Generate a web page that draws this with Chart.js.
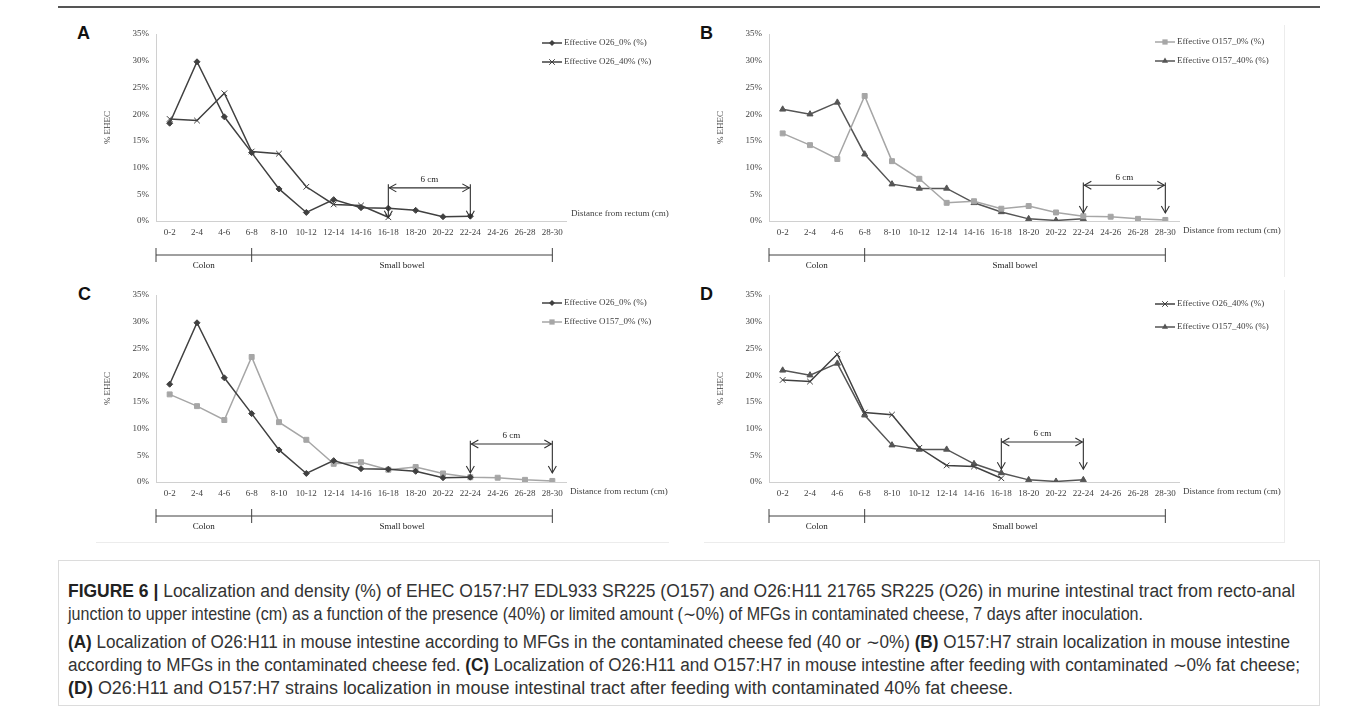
<!DOCTYPE html>
<html><head><meta charset="utf-8">
<script src="https://cdn.jsdelivr.net/npm/chart.js@4.4.1/dist/chart.umd.min.js"></script>
<style>
html,body{margin:0;padding:0;background:#fff;width:1358px;height:709px;overflow:hidden;position:relative;}
.letter{position:absolute;font:bold 18px "Liberation Sans",Arial,sans-serif;color:#111;line-height:18px;}
.rule{position:absolute;background:#555;}
.faint{position:absolute;background:#ececec;}
#caption{position:absolute;left:58px;top:560px;width:1262px;height:146px;border:1px solid #dcdcdc;box-sizing:border-box;}
.cl{position:absolute;left:9px;white-space:nowrap;font-family:"Liberation Sans",Arial,sans-serif;color:#333;line-height:18px;transform-origin:0 50%;}
.cl b{color:#222;}
</style></head>
<body>
<div class="rule" style="left:58px;top:6px;width:1262px;height:2px;"></div>
<div class="faint" style="left:1284px;top:25px;width:1px;height:252px;"></div>
<div class="faint" style="left:1284px;top:290px;width:1px;height:252px;"></div>
<div class="faint" style="left:704px;top:542px;width:581px;height:1px;"></div>
<div class="faint" style="left:96px;top:542px;width:573px;height:1px;"></div>
<div class="letter" style="left:77px;top:24px;">A</div>
<div class="letter" style="left:700px;top:24px;">B</div>
<div class="letter" style="left:78px;top:285px;">C</div>
<div class="letter" style="left:700px;top:285px;">D</div>
<div id="caption">
<div class="cl" id="l1" data-w="1227" style="top:21px"><b>FIGURE 6 |</b> Localization and density (%) of EHEC O157:H7 EDL933 SR225 (O157) and O26:H11 21765 SR225 (O26) in murine intestinal tract from recto-anal</div>
<div class="cl" data-w="1075" style="top:44px">junction to upper intestine (cm) as a function of the presence (40%) or limited amount (∼0%) of MFGs in contaminated cheese, 7 days after inoculation.</div>
<div class="cl" data-w="1222" style="top:72px"><b>(A)</b> Localization of O26:H11 in mouse intestine according to MFGs in the contaminated cheese fed (40 or ∼0%) <b>(B)</b> O157:H7 strain localization in mouse intestine</div>
<div class="cl" data-w="1232" style="top:95px">according to MFGs in the contaminated cheese fed. <b>(C)</b> Localization of O26:H11 and O157:H7 in mouse intestine after feeding with contaminated ∼0% fat cheese;</div>
<div class="cl" data-w="945" style="top:118px"><b>(D)</b> O26:H11 and O157:H7 strains localization in mouse intestinal tract after feeding with contaminated 40% fat cheese.</div>
</div>
<script>
// ---- data ----
const categories = ['0-2','2-4','4-6','6-8','8-10','10-12','12-14','14-16','16-18','18-20','20-22','22-24','24-26','26-28','28-30'];
const yTicks = [0,5,10,15,20,25,30,35];
const o26_0   = [18.3,29.8,19.5,12.8,6.0,1.6,4.0,2.5,2.4,2.0,0.8,0.9,null,null,null];
const o26_40  = [19.1,18.8,23.9,13.0,12.6,6.4,3.1,2.9,0.7,null,null,null,null,null,null];
const o157_0  = [16.4,14.2,11.6,23.4,11.2,7.9,3.4,3.7,2.3,2.8,1.6,0.9,0.8,0.4,0.2];
const o157_40 = [20.9,20.0,22.2,12.5,6.9,6.1,6.1,3.4,1.7,0.4,0.1,0.4,null,null,null];
const regionLabels = ['Colon','Small bowel'];
const regionBounds = [-0.5, 3, 14];           // category positions of bracket ticks
// 6 cm spans: [fromIndex, toIndex, arrowLevel%, topLevel%, bottomLevel%]
const spanA = [8, 11, 6.2, 6.9, 0.6];
const spanB = [11, 14, 6.7, 7.2, 1.5];
const spanC = [11, 14, 7.1, 7.7, 1.7];
const spanD = [8, 11, 7.5, 8.2, 2.4];
const spanLabel = '6 cm';
const xTitle = 'Distance from rectum (cm)';
const yTitle = '% EHEC';

const S = {
  o26_0:  {label:'Effective O26_0% (%)',  data:o26_0,  color:'#404040', marker:'rectRot',  radius:3},
  o26_40: {label:'Effective O26_40% (%)', data:o26_40, color:'#404040', marker:'crossRot', radius:4},
  o157_0: {label:'Effective O157_0% (%)', data:o157_0, color:'#a6a6a6', marker:'rect',     radius:3.5},
  o157_40:{label:'Effective O157_40% (%)',data:o157_40,color:'#555555', marker:'triangle', radius:3.5}
};

const W = 620, H = 280;
const panels = [
  {left:60,  top:15,  area:[96,19,506,206], series:[S.o26_0,S.o26_40],  legendY:[9,28],  span:spanA, distMode:'axis'},
  {left:690, top:15,  area:[79,19,489,206], series:[S.o157_0,S.o157_40],legendY:[8,27],  span:spanB, distMode:'ticks'},
  {left:60,  top:276, area:[96,19,506,206], series:[S.o26_0,S.o157_0], legendY:[8,27],  span:spanC, distMode:'ticks'},
  {left:690, top:276, area:[79,19,489,206], series:[S.o26_40,S.o157_40],legendY:[9,32], span:spanD, distMode:'ticks'}
];

const SERIF = '"Liberation Serif","Times New Roman",serif';
const TXT = '#404040';

function marker(ctx, style, r, x, y, color) {
  ctx.save();
  ctx.fillStyle = color; ctx.strokeStyle = color; ctx.lineWidth = 1;
  ctx.beginPath();
  if (style === 'rectRot') { ctx.moveTo(x, y-r); ctx.lineTo(x+r, y); ctx.lineTo(x, y+r); ctx.lineTo(x-r, y); ctx.closePath(); ctx.fill(); }
  else if (style === 'rect') { const a = r*0.75; ctx.rect(x-a, y-a, 2*a, 2*a); ctx.fill(); }
  else if (style === 'triangle') { ctx.moveTo(x, y-r); ctx.lineTo(x+r*0.87, y+r*0.5); ctx.lineTo(x-r*0.87, y+r*0.5); ctx.closePath(); ctx.fill(); }
  else if (style === 'crossRot') { const a = r*0.7; ctx.moveTo(x-a,y-a); ctx.lineTo(x+a,y+a); ctx.moveTo(x+a,y-a); ctx.lineTo(x-a,y+a); ctx.stroke(); }
  ctx.restore();
}

function openHead(ctx, x, y, dx, dy) {
  const L = 7, Wd = 4;
  const px = -dy, py = dx;
  ctx.beginPath();
  ctx.moveTo(x - dx*L + px*Wd, y - dy*L + py*Wd);
  ctx.lineTo(x, y);
  ctx.lineTo(x - dx*L - px*Wd, y - dy*L - py*Wd);
  ctx.stroke();
}

const extras = {
  id: 'extras',
  afterDraw(chart, args, opts) {
    const p = opts.panel; if (!p) return;
    const {ctx, chartArea: ca, scales: {x, y}} = chart;
    ctx.save();
    ctx.font = '9px ' + SERIF; ctx.textBaseline = 'middle'; ctx.textAlign = 'left';
    chart.data.datasets.forEach((ds, i) => {
      const ly = ca.top + p.legendY[i], lx = ca.right - 24;
      ctx.strokeStyle = ds.borderColor; ctx.lineWidth = 1.5;
      ctx.beginPath(); ctx.moveTo(lx, ly); ctx.lineTo(lx + 20, ly); ctx.stroke();
      marker(ctx, ds.pointStyle, ds.pointRadius, lx + 10, ly, ds.borderColor);
      ctx.fillStyle = TXT; ctx.fillText(ds.label, lx + 22, ly);
    });
    ctx.fillStyle = TXT;
    if (p.distMode === 'axis') ctx.fillText(xTitle, ca.right + 5, ca.bottom - 7);
    else ctx.fillText(xTitle, ca.right + 4, ca.bottom + 10);
    const by = ca.bottom + 34;
    const bx = regionBounds.map(v => x.getPixelForValue(v));
    ctx.strokeStyle = '#404040'; ctx.lineWidth = 1;
    ctx.beginPath(); ctx.moveTo(bx[0], by); ctx.lineTo(bx[bx.length-1], by);
    bx.forEach(v => { ctx.moveTo(v, by - 7); ctx.lineTo(v, by + 7); });
    ctx.stroke();
    ctx.textAlign = 'center'; ctx.fillStyle = '#222';
    regionLabels.forEach((t, i) => ctx.fillText(t, (bx[i] + bx[i+1]) / 2, by + 11));
    const [i1, i2, lv, tv, bv] = p.span;
    const x1 = x.getPixelForValue(i1), x2 = x.getPixelForValue(i2);
    const ay = y.getPixelForValue(lv), ty = y.getPixelForValue(tv), bty = y.getPixelForValue(bv);
    ctx.strokeStyle = '#303030'; ctx.lineWidth = 1.1;
    ctx.beginPath(); ctx.moveTo(x1 + 1, ay); ctx.lineTo(x2 - 1, ay);
    ctx.moveTo(x1, ty); ctx.lineTo(x1, bty); ctx.moveTo(x2, ty); ctx.lineTo(x2, bty); ctx.stroke();
    openHead(ctx, x1 + 1, ay, -1, 0); openHead(ctx, x2 - 1, ay, 1, 0);
    openHead(ctx, x1, bty, 0, 1); openHead(ctx, x2, bty, 0, 1);
    ctx.fillStyle = '#222'; ctx.textAlign = 'center';
    ctx.fillText(spanLabel, (x1 + x2) / 2, ay - 8);
    ctx.restore();
  }
};

panels.forEach(p => {
  const wrap = document.createElement('div');
  wrap.style.cssText = `position:absolute;left:${p.left}px;top:${p.top}px;width:${W}px;height:${H}px;`;
  const cv = document.createElement('canvas');
  cv.width = W; cv.height = H; cv.style.width = W + 'px'; cv.style.height = H + 'px';
  wrap.appendChild(cv); document.body.appendChild(wrap);
  const [al, at, ar, ab] = p.area;
  new Chart(cv, {
    type: 'line',
    data: {
      labels: categories,
      datasets: p.series.map(s => ({
        label: s.label, data: s.data, borderColor: s.color, backgroundColor: s.color,
        pointStyle: s.marker, pointRadius: s.radius, pointHoverRadius: s.radius,
        pointBorderWidth: 1, borderWidth: 1.5, tension: 0, spanGaps: false, fill: false
      }))
    },
    options: {
      responsive: false, animation: false, devicePixelRatio: 1,
      layout: {padding: {left: al - 56, top: at, right: W - ar, bottom: 0}},
      plugins: {legend: {display: false}, tooltip: {enabled: false}, extras: {panel: p}},
      scales: {
        x: {
          type: 'category', offset: true,
          grid: {display: true, drawOnChartArea: false, drawTicks: false, color: '#d0d0d0'},
          border: {display: true, color: '#d0d0d0', width: 1},
          ticks: {font: {family: SERIF, size: 9}, color: TXT, padding: 6, maxRotation: 0, autoSkip: false},
          afterFit(s) { s.height = H - ab; }
        },
        y: {
          min: 0, max: 35,
          afterBuildTicks(s) { s.ticks = yTicks.map(v => ({value: v})); },
          grid: {display: true, drawOnChartArea: false, drawTicks: false, color: '#d0d0d0'},
          border: {display: true, color: '#d0d0d0', width: 1},
          ticks: {font: {family: SERIF, size: 9}, color: TXT, padding: 7, callback: v => v + '%'},
          title: {display: true, text: yTitle, font: {family: SERIF, size: 9}, color: TXT, padding: {top: 2, bottom: 0}},
          afterFit(s) { s.width = 56; }
        }
      }
    },
    plugins: [extras]
  });
});

// caption sizing: fit first line, then set each line's width to the reference width
(function () {
  const lines = document.querySelectorAll('.cl');
  let fs = 16;
  lines.forEach(l => l.style.fontSize = fs + 'px');
  const w = document.getElementById('l1').getBoundingClientRect().width;
  fs = fs * 1227 / w;
  lines.forEach(l => l.style.fontSize = fs.toFixed(2) + 'px');
  lines.forEach(l => {
    const nat = l.getBoundingClientRect().width;
    const target = parseFloat(l.dataset.w);
    l.style.transform = 'scaleX(' + (target / nat).toFixed(4) + ')';
  });
})();
</script>
</body></html>
